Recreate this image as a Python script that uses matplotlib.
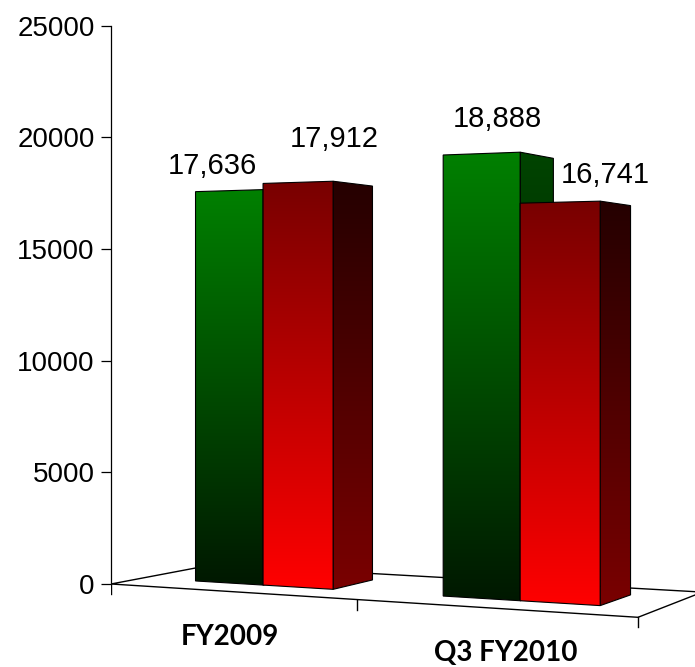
import numpy as np
import matplotlib
matplotlib.use('Agg')
import matplotlib.pyplot as plt
from matplotlib.patches import Polygon
from matplotlib.colors import LinearSegmentedColormap

categories = ['FY2009', 'Q3 FY2010']
green_values = [17636, 18888]
red_values = [17912, 16741]
green_labels = ['17,636', '18,888']
red_labels = ['17,912', '16,741']
yticks = [0, 5000, 10000, 15000, 20000, 25000]

W, H = 695, 667
AX_LEFT = 111
ZERO_ROW = 584.0
TOP_ROW = 25.7
unit_px = (ZERO_ROW - TOP_ROW) / yticks[-1]
cat_px = 263.5

fig = plt.figure(figsize=(W / 100, H / 100), dpi=100)
ax = fig.add_axes([AX_LEFT / W, 0, 1 - AX_LEFT / W, 1])


def px(x, y):
    # layout point given in pixel rows/cols -> data coords
    return (x - AX_LEFT) / cat_px, (ZERO_ROW - y) / unit_px


# floor quad (front-left, front-right, back-left, back-right) and horizon
src = [(0, 0), (1, 0), (0, 1), (1, 1)]
dst = [px(111, 584), px(638, 617.3), px(213.5, 564.6), px(702.5, 592.1)]
horizon = px(0, 320)[1]

A, b = [], []
for (u, v), (x, y) in zip(src, dst):
    A.append([u, v, 1, 0, 0, 0, -u * x, -v * x])
    b.append(x)
    A.append([0, 0, 0, u, v, 1, -u * y, -v * y])
    b.append(y)
hom = np.append(np.linalg.solve(np.array(A, float), np.array(b, float)), 1).reshape(3, 3)


def lift(s, t, val=0):
    x, y, w = hom @ np.array([s, t, 1.0])
    x, y = x / w, y / w
    return x, y + val * (horizon - y) / horizon


def face(pts, top_c, bot_c, z):
    poly = Polygon(pts, closed=True, fc='none', ec='black', lw=0.8, zorder=z + 0.5)
    ax.add_patch(poly)
    xs = [p[0] for p in pts]
    ys = [p[1] for p in pts]
    cmap = LinearSegmentedColormap.from_list('g', [bot_c, top_c])
    grad = np.linspace(0, 1, 256).reshape(-1, 1)
    im = ax.imshow(grad, cmap=cmap, origin='lower', aspect='auto', interpolation='bilinear',
                   extent=[min(xs), max(xs), min(ys), max(ys)], zorder=z)
    im.set_clip_path(poly)


# floor
floor = Polygon([lift(0, 0), lift(1, 0), lift(1, 1), lift(0, 1)], closed=True,
                fc='white', ec='black', lw=1.0, zorder=1)
ax.add_patch(floor)
tick_len = 10 / unit_px
for s in [0, 0.5, 1]:
    x, y = lift(s, 0)
    ax.plot([x, x], [y, y - tick_len], color='black', lw=1.0, zorder=1.5)

# bars
bar_w = 0.5 / 3.5
t0, t1 = 0.30, 0.74
green_off = [(-17, 16.5), (16, 26.5)]
red_off = [(36.5, 35), (45.5, 19.5)]
z = 2
for i, cat in enumerate(categories):
    c = 0.256 + 0.5 * i
    series = [(green_values[i], c - bar_w, c, ('#008000', '#001800'), ('#004400', '#000c00'),
               green_labels[i], green_off[i]),
              (red_values[i], c, c + bar_w, ('#780000', '#ff0000'), ('#250000', '#7a0000'),
               red_labels[i], red_off[i])]
    for val, s0, s1, front_c, side_c, lab, off in series:
        side = [lift(s1, t0), lift(s1, t1), lift(s1, t1, val), lift(s1, t0, val)]
        face(side, side_c[0], side_c[1], z)
        front = [lift(s0, t0), lift(s1, t0), lift(s1, t0, val), lift(s0, t0, val)]
        face(front, front_c[0], front_c[1], z + 1)
        z += 2
        tx = (front[2][0] + front[3][0]) / 2
        ty = (front[2][1] + front[3][1]) / 2
        ax.annotate(lab, xy=(tx, ty), xytext=off, textcoords='offset pixels',
                    ha='center', va='baseline', fontsize=21, family='Liberation Sans',
                    zorder=20)

cat_dx = [0, 13]
for i, cat in enumerate(categories):
    x, y = lift(0.25 + 0.5 * i, 0)
    ax.annotate(cat, xy=(x, y), xytext=(cat_dx[i], -53), textcoords='offset pixels',
                ha='center', va='baseline', fontsize=20, fontweight='bold', family='Lato')

ax.set_xlim(0, (W - AX_LEFT) / cat_px)
ax.set_ylim(-(H - ZERO_ROW) / unit_px, ZERO_ROW / unit_px)
for sp in ['top', 'right', 'bottom']:
    ax.spines[sp].set_visible(False)
ax.spines['left'].set_bounds(0, yticks[-1])
ax.spines['left'].set_linewidth(0.9)
ax.set_xticks([])
ax.set_yticks(yticks)
ax.set_yticklabels([str(v) for v in yticks], family='Liberation Sans')
ax.tick_params(axis='y', direction='out', length=7.5, width=0.9, pad=4.3, labelsize=20)
ax.patch.set_visible(False)

fig.savefig('out.png', dpi=100)
